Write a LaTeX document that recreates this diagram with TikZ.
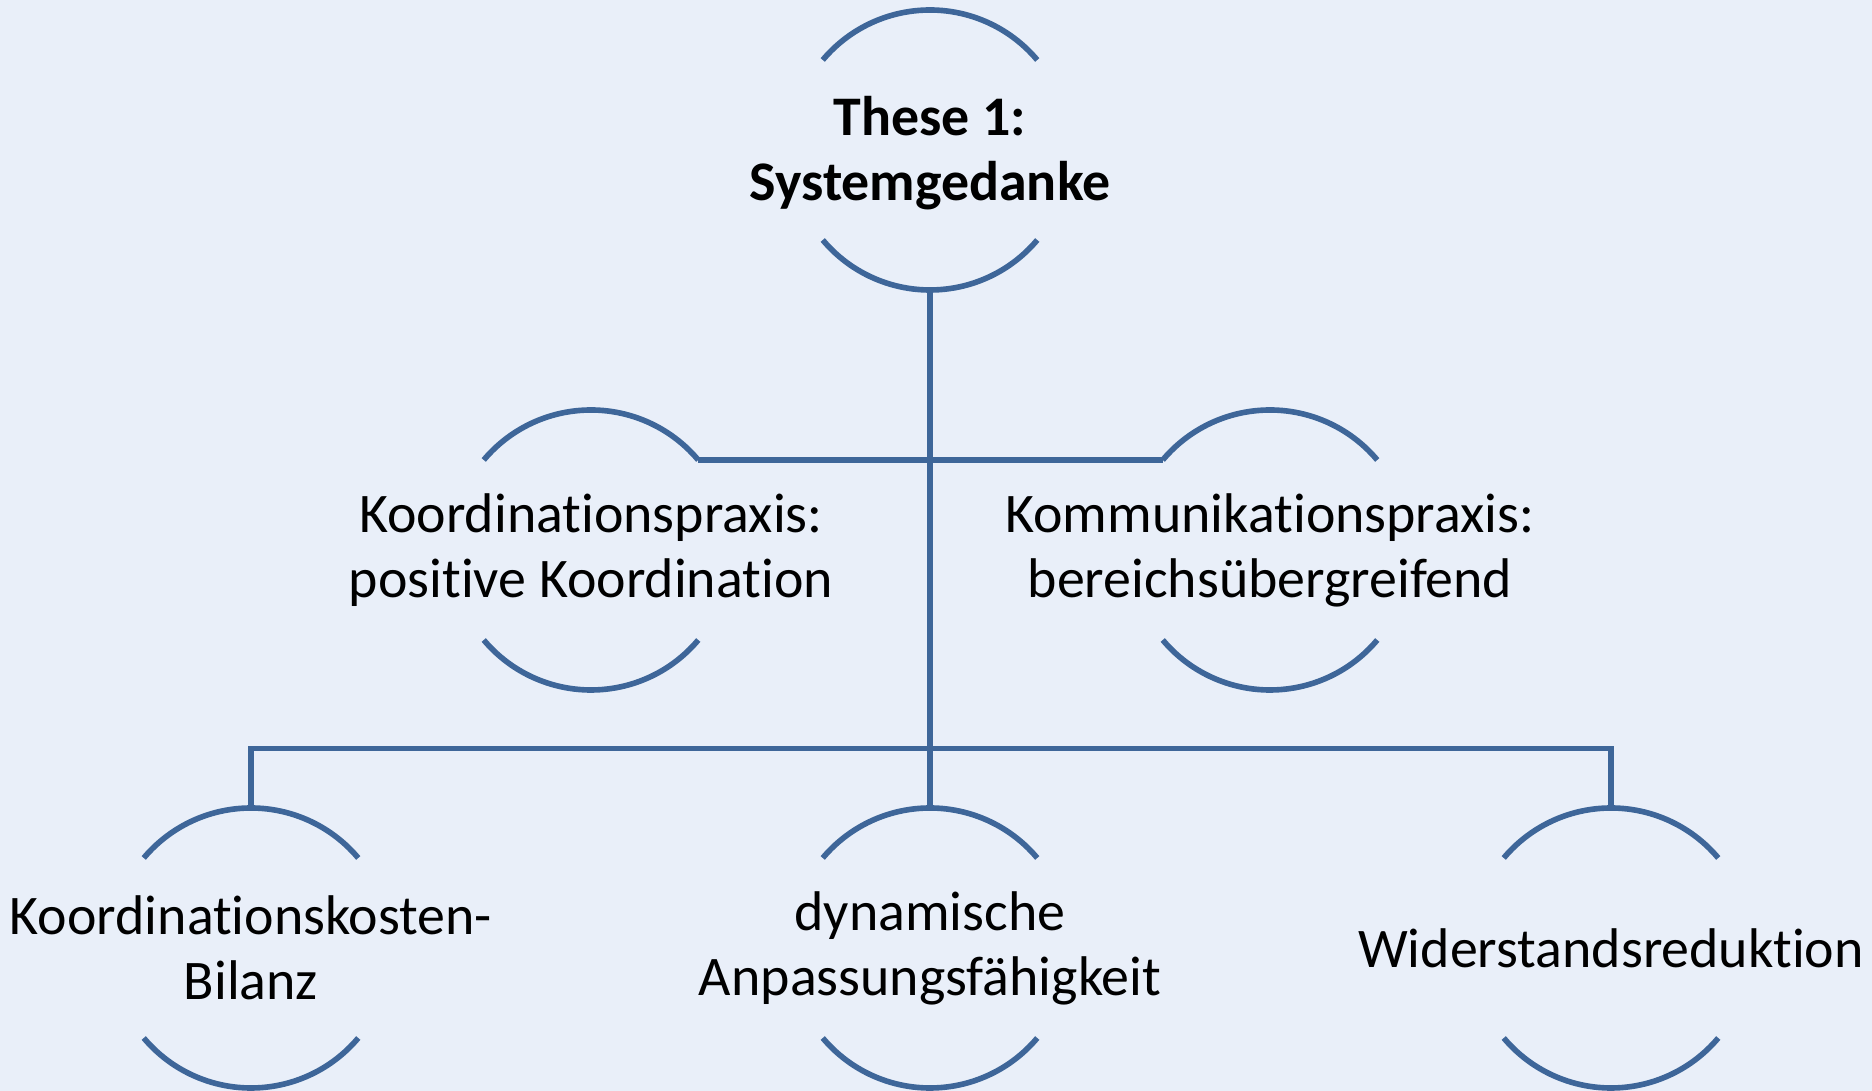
\documentclass[tikz,border=0pt]{standalone}
\usepackage{fontspec}
\setmainfont{Carlito}[Ligatures=NoCommon]
\usepackage{xcolor}
\usepackage{tikz}
\usetikzlibrary{positioning, backgrounds}
\definecolor{clrLine}{RGB}{62,102,153}
\definecolor{clrBack}{RGB}{233,239,249}

\begin{document}
\begin{tikzpicture}[
  hub/.style={
    inner sep=0pt, font=\fontsize{15.9}{18.5}\selectfont,
    align=center, text=black
  },
  tophub/.style={hub, font=\fontsize{15.9}{18.5}\selectfont\bfseries},
  ring/.style={draw=clrLine, line width=1.6pt},
  link/.style={draw=clrLine, line width=1.6pt}
]

\fill[clrBack] (0,0) rectangle (18.72,10.91);
\useasboundingbox (0,0) rectangle (18.72,10.91);

\node[tophub] (these) at (9.30,9.38) {These 1:\\Systemgedanke};

\node[hub] (koord)  at (5.91,5.41)  {Koordinationspraxis:\\positive Koordination};
\node[hub] (komm)   at (12.70,5.41) {Kommunikationspraxis:\\bereichsübergreifend};

\node[hub] (bilanz) at (2.51,1.43)  {Koordinationskosten-\\Bilanz};
\node[hub] (dynam)  at (9.30,1.43)  {dynamische\\Anpassungsfähigkeit};
\node[hub] (wider)  at (16.11,1.43) {Widerstandsreduktion};

\coordinate (ctop) at (9.30,9.41);
\coordinate (split) at (9.30,3.424);

% Arcs above and below each text
\draw[ring] ([shift={(40:1.4)}]ctop)  arc[start angle=40, end angle=140, radius=1.4cm]
            ([shift={(220:1.4)}]ctop) arc[start angle=220, end angle=320, radius=1.4cm];
\draw[ring] ([shift={(40:1.4)}]koord.center)  arc[start angle=40, end angle=140, radius=1.4cm]
            ([shift={(220:1.4)}]koord.center) arc[start angle=220, end angle=320, radius=1.4cm];
\draw[ring] ([shift={(40:1.4)}]komm.center)   arc[start angle=40, end angle=140, radius=1.4cm]
            ([shift={(220:1.4)}]komm.center)  arc[start angle=220, end angle=320, radius=1.4cm];
\draw[ring] ([shift={(40:1.4)}]bilanz.center) arc[start angle=40, end angle=140, radius=1.4cm]
            ([shift={(220:1.4)}]bilanz.center) arc[start angle=220, end angle=320, radius=1.4cm];
\draw[ring] ([shift={(40:1.4)}]dynam.center)  arc[start angle=40, end angle=140, radius=1.4cm]
            ([shift={(220:1.4)}]dynam.center) arc[start angle=220, end angle=320, radius=1.4cm];
\draw[ring] ([shift={(40:1.4)}]wider.center)  arc[start angle=40, end angle=140, radius=1.4cm]
            ([shift={(220:1.4)}]wider.center) arc[start angle=220, end angle=320, radius=1.4cm];

% Connectors
\draw[link] ([yshift=-1.4cm]ctop) -- (split);
\draw[link] ([shift={(40:1.4)}]koord.center) -- ([shift={(140:1.4)}]komm.center);
\draw[link] ([yshift=1.4cm]bilanz.center) |- (split) -| ([yshift=1.4cm]wider.center);
\draw[link] (split) -- ([yshift=1.4cm]dynam.center);

\end{tikzpicture}
\end{document}
